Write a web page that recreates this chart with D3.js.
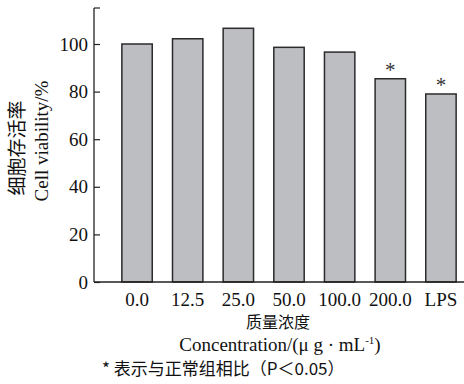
<!DOCTYPE html>
<html>
<head>
<meta charset="utf-8">
<script src="https://cdn.jsdelivr.net/npm/d3@7"></script>
<style>
  body { margin: 0; background: #fff; }
  svg { display: block; }
  .serif { font-family: "Liberation Serif", "DejaVu Serif", serif; }
  .cjk { font-family: "Noto Sans CJK SC", sans-serif; }
</style>
</head>
<body>
<div id="chart"></div>
<script>
const categories = ["0.0", "12.5", "25.0", "50.0", "100.0", "200.0", "LPS"];
const viability = [100, 102.2, 106.6, 98.6, 96.6, 85.4, 79.0];
const significant = [false, false, false, false, false, true, true];
const yTicks = [0, 20, 40, 60, 80, 100];

const width = 464, height = 384;
const left = 94, baseline = 282;

const svg = d3.select("#chart").append("svg")
    .attr("width", width)
    .attr("height", height);

const y = d3.scaleLinear().domain([0, 100]).range([baseline, 44]);

const x = d3.scaleBand()
    .domain(categories)
    .range([left, 484])
    .paddingInner(0.4)
    .paddingOuter(0.55);

const data = categories.map((c, i) => ({ c, v: viability[i], sig: significant[i] }));

// bars
svg.append("g").selectAll("rect")
    .data(data)
    .enter()
    .append("rect")
    .attr("x", d => x(d.c))
    .attr("y", d => y(d.v))
    .attr("width", x.bandwidth())
    .attr("height", d => baseline - y(d.v))
    .attr("fill", "#bdbec2")
    .attr("stroke", "#2b2b2b")
    .attr("stroke-width", 1.5);

// significance marks
svg.append("g").selectAll("text")
    .data(data.filter(d => d.sig))
    .enter()
    .append("text")
    .attr("class", "serif")
    .attr("x", d => x(d.c) + x.bandwidth() / 2)
    .attr("y", d => y(d.v) - 2)
    .attr("text-anchor", "middle")
    .attr("font-size", "21px")
    .attr("fill", "#333")
    .text("*");

// y axis
const yAxis = d3.axisLeft(y)
    .tickValues(yTicks)
    .tickSizeInner(-6)
    .tickSizeOuter(0)
    .tickPadding(5);

const yg = svg.append("g")
    .attr("transform", `translate(${left},0)`)
    .call(yAxis);
yg.select(".domain").remove();
yg.selectAll(".tick line").attr("stroke", "#222").attr("stroke-width", 1.2);
yg.selectAll(".tick text")
    .attr("class", "serif")
    .attr("font-size", "19px")
    .attr("fill", "#111")
    .attr("x", -6);

// axis lines
svg.append("line")
    .attr("x1", left).attr("x2", left)
    .attr("y1", 8).attr("y2", baseline)
    .attr("stroke", "#222").attr("stroke-width", 1.3);
svg.append("line")
    .attr("x1", left).attr("x2", left + 6)
    .attr("y1", 8).attr("y2", 8)
    .attr("stroke", "#222").attr("stroke-width", 1.2);
svg.append("line")
    .attr("x1", left).attr("x2", width)
    .attr("y1", baseline).attr("y2", baseline)
    .attr("stroke", "#222").attr("stroke-width", 1.3);

// x labels
svg.append("g").selectAll("text")
    .data(categories)
    .enter()
    .append("text")
    .attr("class", "serif")
    .attr("x", d => x(d) + x.bandwidth() / 2)
    .attr("y", 306)
    .attr("text-anchor", "middle")
    .attr("font-size", "19px")
    .attr("fill", "#111")
    .text(d => d);

// x titles
svg.append("text")
    .attr("class", "cjk")
    .attr("x", 278).attr("y", 328)
    .attr("text-anchor", "middle")
    .attr("font-size", "16px")
    .attr("fill", "#111")
    .text("质量浓度");

const xt = svg.append("text")
    .attr("class", "serif")
    .attr("x", 280).attr("y", 351)
    .attr("text-anchor", "middle")
    .attr("font-size", "19px")
    .attr("fill", "#111");
xt.append("tspan").text("Concentration/(μ g · mL");
xt.append("tspan").attr("dy", -7).attr("font-size", "11px").text("-1");
xt.append("tspan").attr("dy", 7).text(")");

// y titles
svg.append("text")
    .attr("class", "cjk")
    .attr("transform", "translate(24,148) rotate(-90)")
    .attr("text-anchor", "middle")
    .attr("font-size", "19px")
    .attr("fill", "#111")
    .text("细胞存活率");
svg.append("text")
    .attr("class", "serif")
    .attr("transform", "translate(48,141) rotate(-90)")
    .attr("text-anchor", "middle")
    .attr("font-size", "19px")
    .attr("fill", "#111")
    .text("Cell viability/%");

// footnote
svg.append("text")
    .attr("class", "cjk")
    .attr("x", 102).attr("y", 375)
    .attr("font-size", "17px")
    .attr("fill", "#111")
    .text("* 表示与正常组相比（P＜0.05）");
</script>
</body>
</html>
